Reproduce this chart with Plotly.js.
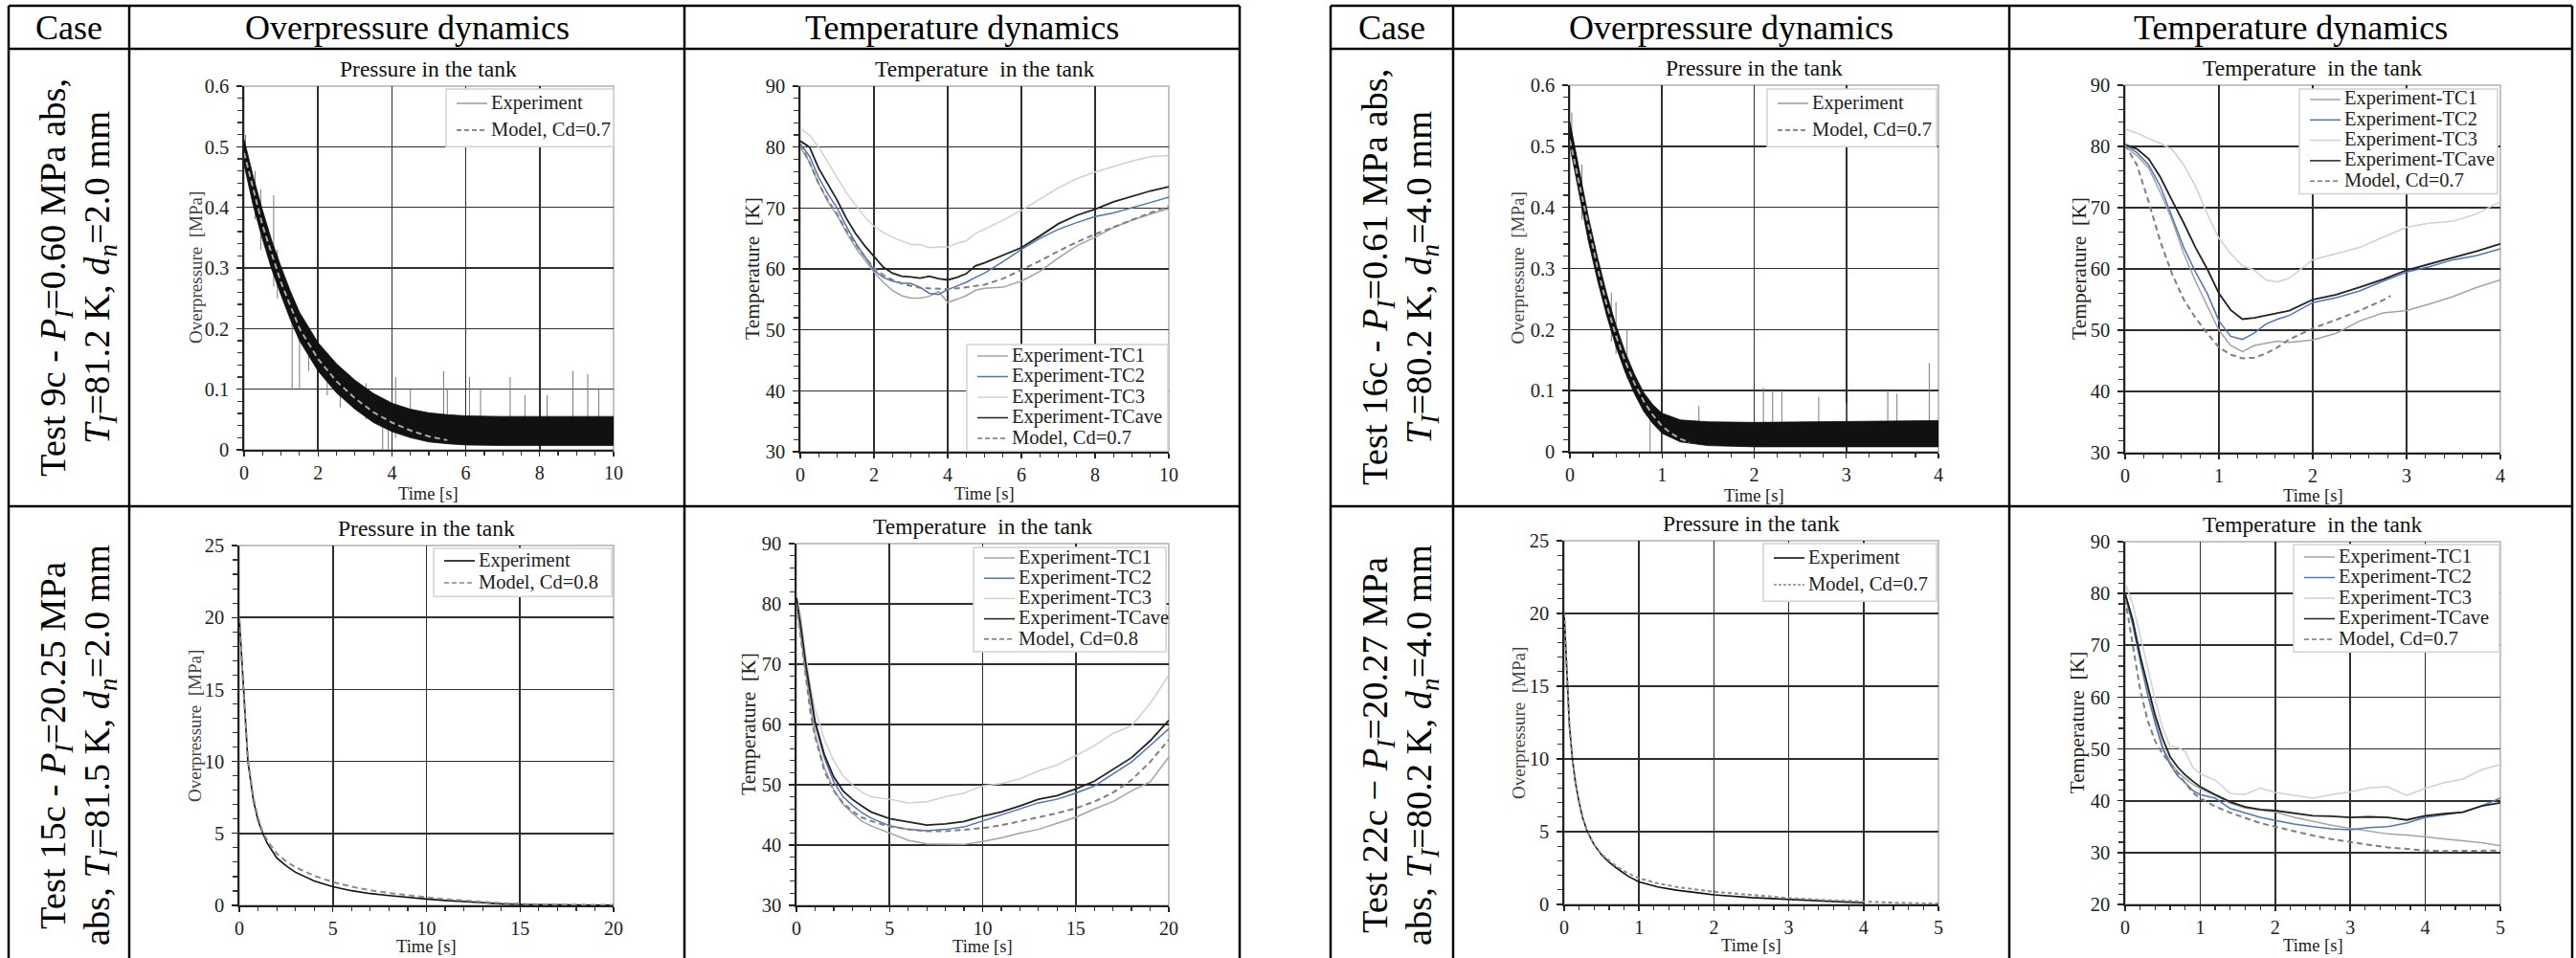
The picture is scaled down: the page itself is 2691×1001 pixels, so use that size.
<!DOCTYPE html>
<html><head><meta charset="utf-8">
<script src="https://cdn.plot.ly/plotly-3.0.1.min.js"></script>
<style>html,body{margin:0;padding:0;background:#fff;overflow:hidden}</style>
</head><body><div id="chart" style="width:2691px;height:1001px"></div>
<script>
// ================= DATA =================
// Test 9c – overpressure [MPa] (experiment noise band envelope, spikes, model)
const t9p   = [0, 0.25, 0.5, 0.75, 1, 1.25, 1.5, 2, 2.5, 3, 3.5, 4, 4.5, 5, 5.5, 6, 7, 8, 9, 10];
const p9hi  = [0.512, 0.45, 0.395, 0.345, 0.302, 0.262, 0.227, 0.177, 0.142, 0.115, 0.093, 0.077, 0.067, 0.061, 0.058, 0.056, 0.055, 0.055, 0.056, 0.055];
const p9lo  = [0.47, 0.402, 0.347, 0.297, 0.255, 0.215, 0.18, 0.13, 0.094, 0.067, 0.045, 0.03, 0.02, 0.013, 0.01, 0.008, 0.007, 0.007, 0.007, 0.007];
const s9t   = [0.04, 0.3, 0.45, 0.8, 0.9, 1.3, 1.5, 1.75, 2.25, 2.6, 3.3, 3.75, 3.9, 4.1, 4.5, 5.4, 5.5, 6.1, 6.4, 7.2, 7.6, 8.2, 8.9, 9.3, 9.6];
const s9lo  = [0.46, 0.38, 0.33, 0.27, 0.25, 0.1, 0.1, 0.13, 0.09, 0.07, 0.05, 0.0, 0.0, 0.02, 0.03, 0.03, 0.02, 0.03, 0.03, 0.03, 0.02, 0.03, 0.03, 0.03, 0.02];
const s9hi  = [0.52, 0.46, 0.43, 0.42, 0.33, 0.22, 0.2, 0.2, 0.15, 0.12, 0.11, 0.06, 0.05, 0.12, 0.1, 0.13, 0.1, 0.12, 0.1, 0.12, 0.09, 0.09, 0.13, 0.125, 0.1];
const t9m   = [0, 0.5, 1, 1.5, 2, 2.5, 3, 3.5, 4, 4.5, 5, 5.5];
const p9m   = [0.49, 0.37, 0.276, 0.2, 0.15, 0.113, 0.085, 0.062, 0.045, 0.032, 0.022, 0.016];

// Test 9c – temperature [K]
const t9T   = [0, 0.25, 0.5, 0.75, 1, 1.25, 1.5, 1.75, 2, 2.25, 2.5, 2.75, 3, 3.25, 3.5, 3.75, 4, 4.25, 4.5, 4.75, 5, 5.5, 6, 6.5, 7, 7.5, 8, 8.5, 9, 9.5, 10];
const T9tc1 = [80, 77.5, 74, 71, 68.8, 66, 63.5, 61.5, 59.5, 57.8, 56.5, 55.6, 55.2, 55.2, 55.5, 56.3, 54.5, 55, 55.6, 56.5, 56.8, 57, 58, 59.6, 61.8, 63.8, 65.2, 66.8, 68, 69, 69.9];
const T9tc2 = [80.5, 78.5, 75, 72.3, 70, 67, 64.3, 62, 59.8, 58.6, 58, 57.7, 57.6, 57, 56, 55.8, 56.6, 57.2, 57.8, 58.6, 59.3, 61.2, 63.2, 65, 66.5, 67.6, 68.6, 69.2, 70, 70.9, 71.8];
const T9tc3 = [83, 82, 80, 77.5, 75, 72.5, 70.5, 68.5, 67, 66, 65.2, 64.6, 64, 64, 63.5, 63.6, 63.6, 64.2, 64.6, 65.8, 66.5, 68, 69.6, 71.5, 73.3, 74.8, 75.9, 76.8, 77.7, 78.4, 78.6];
const T9ave = [81, 80, 76.5, 73.8, 71.3, 68.3, 65.8, 63.8, 62, 60.3, 59.3, 58.8, 58.7, 58.5, 58.8, 58.4, 58.2, 58.6, 59.2, 60.5, 61, 62.2, 63.5, 65.4, 67.4, 68.8, 69.8, 71, 71.9, 72.8, 73.5];
const T9mod = [80.5, 77.5, 74, 71.3, 69, 66.3, 64, 62, 60.2, 59, 58.2, 57.6, 57.2, 56.9, 56.8, 56.7, 56.7, 56.8, 57, 57.2, 57.4, 58.4, 59.8, 61.3, 62.9, 64.4, 65.7, 66.9, 68, 69.2, 70.3];

// Test 16c – overpressure [MPa]
const t16p  = [0, 0.1, 0.2, 0.3, 0.4, 0.5, 0.6, 0.7, 0.8, 0.9, 1.0, 1.2, 1.5, 2, 2.5, 3, 3.5, 4];
const p16hi = [0.54, 0.46, 0.385, 0.318, 0.258, 0.207, 0.163, 0.127, 0.097, 0.077, 0.063, 0.052, 0.049, 0.048, 0.049, 0.05, 0.05, 0.051];
const p16lo = [0.50, 0.42, 0.345, 0.28, 0.222, 0.172, 0.13, 0.095, 0.066, 0.046, 0.03, 0.016, 0.01, 0.008, 0.008, 0.008, 0.008, 0.008];
const s16t  = [0.02, 0.13, 0.45, 0.5, 0.62, 0.87, 1.0, 1.4, 2.1, 2.2, 2.3, 2.7, 3.0, 3.45, 3.55, 3.9];
const s16lo = [0.5, 0.38, 0.18, 0.16, 0.12, 0.0, 0.0, 0.03, 0.03, 0.03, 0.03, 0.03, 0.03, 0.03, 0.03, 0.03];
const s16hi = [0.555, 0.47, 0.26, 0.245, 0.2, 0.06, 0.04, 0.075, 0.105, 0.1, 0.1, 0.09, 0.08, 0.1, 0.095, 0.145];
const t16m  = [0, 0.1, 0.2, 0.3, 0.4, 0.5, 0.6, 0.7, 0.8, 0.9, 1.0, 1.1, 1.2, 1.3];
const p16m  = [0.51, 0.44, 0.365, 0.3, 0.24, 0.19, 0.148, 0.112, 0.083, 0.06, 0.042, 0.03, 0.021, 0.015];

// Test 16c – temperature [K]
const t16T   = [0, 0.125, 0.25, 0.375, 0.5, 0.625, 0.75, 0.875, 1, 1.125, 1.25, 1.375, 1.5, 1.625, 1.75, 2, 2.25, 2.5, 2.75, 3, 3.25, 3.5, 3.75, 4];
const T16tc1 = [80, 78.5, 76.5, 72.5, 68, 62.5, 58, 54, 50, 47.5, 46.5, 47.5, 47.9, 48.2, 48, 48.4, 49.5, 51.5, 52.8, 53.2, 54.3, 55.5, 57, 58.2];
const T16tc2 = [80.3, 79, 77, 73.5, 68.5, 63.5, 59.5, 56, 51.5, 49, 48.5, 49.5, 51, 51.8, 52.4, 54.5, 55.3, 56.4, 58, 59.5, 60.4, 61.5, 62.2, 63.3];
const T16tc3 = [82.8, 82.2, 81.3, 80.5, 79.5, 77, 73.5, 69, 65, 62.5, 60.5, 59.8, 58.2, 57.9, 58.5, 61.5, 62.5, 63.5, 65.2, 66.8, 67.5, 67.8, 69, 71];
const T16ave = [80.3, 79.6, 78, 75, 71.2, 67.5, 63.5, 60, 56, 53.3, 51.8, 52, 52.4, 52.8, 53.2, 55, 55.8, 57, 58.3, 59.8, 60.8, 61.8, 62.9, 64.1];
const t16Tm  = [0, 0.125, 0.25, 0.375, 0.5, 0.625, 0.75, 0.875, 1, 1.125, 1.25, 1.375, 1.5, 1.625, 1.75, 2, 2.25, 2.5, 2.75, 2.83];
const T16mod = [80.3, 77, 71, 64.5, 59.2, 55, 52, 49.5, 47.2, 46, 45.4, 45.5, 46.2, 47.2, 48.5, 50.3, 51.7, 53.2, 54.9, 55.6];

// Test 15c – overpressure [MPa]
const t15p  = [0, 0.1, 0.23, 0.46, 0.75, 1, 1.25, 1.5, 2, 2.5, 3, 4, 5, 6, 7, 8, 9, 10, 11, 12, 13, 14, 15, 16, 17, 18, 19, 20];
const p15e  = [20, 17.5, 15, 10, 7.3, 5.9, 5.0, 4.3, 3.3, 2.75, 2.3, 1.7, 1.3, 1.02, 0.82, 0.68, 0.55, 0.44, 0.34, 0.25, 0.18, 0.11, 0.07, 0.04, 0.03, 0.03, 0.02, 0.02];
const p15m  = [20, 17.3, 14.7, 10.2, 7.5, 6.1, 5.1, 4.5, 3.6, 3.05, 2.65, 2.05, 1.62, 1.3, 1.05, 0.86, 0.7, 0.56, 0.44, 0.33, 0.24, 0.16, 0.1, 0.06, 0.04, 0.03, 0.03, 0.03];

// Test 15c – temperature [K]
const t15T   = [0, 0.25, 0.5, 0.75, 1, 1.5, 2, 2.5, 3, 3.5, 4, 5, 6, 7, 8, 9, 10, 11, 12, 13, 14, 15, 16, 17, 18, 19, 20];
const T15tc1 = [80, 74.5, 68.5, 63, 58.5, 52.8, 49.2, 46.8, 45.3, 44, 43.2, 42, 40.8, 40.2, 40.1, 40.1, 40.6, 41.2, 42, 42.6, 43.6, 44.6, 46, 47.2, 49, 50.5, 54.6];
const T15tc2 = [80.5, 75.5, 69.5, 64.5, 60, 54.5, 50.5, 48, 46.6, 45.4, 44.5, 43.2, 42.6, 42.4, 42.6, 43, 44, 45, 46, 47, 47.6, 48.6, 49.8, 51.8, 53.8, 56.5, 59.3];
const T15tc3 = [82, 77.5, 71.5, 66.5, 62.5, 57.5, 54, 51.5, 50, 48.8, 48, 47.6, 47, 47.2, 48, 48.6, 49.8, 50.2, 51, 52.3, 53.3, 54.8, 56.5, 58.5, 59.8, 63.5, 68.2];
const T15ave = [81, 76, 70, 65, 60.5, 55, 51.3, 49, 47.6, 46.5, 45.5, 44.4, 43.8, 43.3, 43.5, 43.9, 44.8, 45.5, 46.5, 47.6, 48.2, 49.3, 50.6, 52.5, 54.5, 57.3, 60.7];
const T15mod = [80, 74, 67.5, 62, 58, 52.3, 49, 47, 45.6, 44.6, 44, 43.1, 42.6, 42.3, 42.3, 42.5, 42.8, 43.3, 43.9, 44.6, 45.3, 46.1, 47.2, 48.7, 50.8, 53.8, 57.5];

// Test 22c – overpressure [MPa]
const t22p  = [0, 0.02, 0.04, 0.07, 0.11, 0.15, 0.2, 0.25, 0.31, 0.4, 0.5, 0.6, 0.7, 0.85, 1.0, 1.25, 1.5, 2, 2.5, 3, 3.5, 4];
const p22e  = [20, 17.5, 15, 12.3, 10, 8.4, 7, 5.9, 5, 4.1, 3.4, 2.9, 2.5, 1.95, 1.55, 1.2, 0.98, 0.66, 0.47, 0.33, 0.22, 0.12];
const t22m  = [0, 0.02, 0.04, 0.07, 0.11, 0.15, 0.2, 0.25, 0.31, 0.4, 0.5, 0.6, 0.7, 0.85, 1.0, 1.25, 1.5, 2, 2.5, 3, 3.5, 4, 4.5, 5];
const p22m  = [20, 17.5, 15, 12.3, 10, 8.4, 7, 5.9, 5, 4.1, 3.45, 3.0, 2.6, 2.15, 1.8, 1.45, 1.2, 0.87, 0.63, 0.44, 0.3, 0.18, 0.1, 0.06];

// Test 22c – temperature [K]
const t22T   = [0, 0.1, 0.2, 0.3, 0.4, 0.5, 0.6, 0.7, 0.8, 0.9, 1, 1.2, 1.4, 1.6, 1.8, 2, 2.25, 2.5, 2.75, 3, 3.25, 3.5, 3.75, 4, 4.25, 4.5, 4.75, 5];
const T22tc1 = [80, 74.5, 68, 61.5, 55.5, 50.5, 47.5, 45.6, 44.3, 43.2, 42.4, 41, 39.5, 38.6, 38.2, 37.8, 36.8, 36, 35.3, 34.7, 34.2, 33.6, 33.4, 33, 32.7, 32.3, 31.9, 31.3];
const T22tc2 = [79.5, 74, 67, 60.5, 55, 50, 47, 44.8, 43.5, 42, 41.2, 40.5, 38.5, 37.6, 36.8, 36.2, 35.5, 35, 34.6, 34.4, 34.8, 35, 35.7, 36.8, 37.3, 37.8, 39, 40.5];
const T22tc3 = [82, 78, 72, 65.5, 59.5, 54, 50.5, 50.3, 49.5, 46.5, 45.2, 44, 41.4, 41.2, 42.5, 41.6, 41, 40.5, 41.2, 41.7, 42.5, 42.7, 41, 42.4, 43.5, 44.2, 46, 47];
const T22ave = [80, 75, 68, 62, 56.5, 52, 48.5, 46.5, 45, 43.8, 42.7, 41.2, 39.8, 38.8, 38.3, 38.1, 37.6, 37.1, 37, 36.8, 36.9, 36.8, 36.3, 37.1, 37.5, 37.8, 39, 39.6];
const T22mod = [79, 70, 61.5, 55.5, 51.5, 49, 47.1, 45.2, 43.5, 41.6, 40.5, 38.9, 37.7, 36.7, 35.7, 35, 34.1, 33.3, 32.6, 32, 31.5, 31, 30.7, 30.4, 30.3, 30.3, 30.3, 30.4];

// Texts
const headers   = ['Case', 'Overpressure dynamics', 'Temperature dynamics'];
const caseLines = [
  ['Test 9c - <i>P</i><sub><i>I</i></sub>=0.60 MPa abs,', '<i>T</i><sub><i>I</i></sub>=81.2 K, <i>d</i><sub><i>n</i></sub>=2.0 mm'],
  ['Test 15c - <i>P</i><sub><i>I</i></sub>=20.25 MPa', 'abs, <i>T</i><sub><i>I</i></sub>=81.5 K, <i>d</i><sub><i>n</i></sub>=2.0 mm'],
  ['Test 16c - <i>P</i><sub><i>I</i></sub>=0.61 MPa abs,', '<i>T</i><sub><i>I</i></sub>=80.2 K, <i>d</i><sub><i>n</i></sub>=4.0 mm'],
  ['Test 22c \u2212 <i>P</i><sub><i>I</i></sub>=20.27 MPa', 'abs, <i>T</i><sub><i>I</i></sub>=80.2 K, <i>d</i><sub><i>n</i></sub>=4.0 mm']
];
const tcNames = ['Experiment-TC1', 'Experiment-TC2', 'Experiment-TC3', 'Experiment-TCave'];

// ================= LAYOUT / STYLE =================
const W = 2691, H = 1001;
const FONT = 'Liberation Serif, Times New Roman, serif';
const px = x => x / W, py = y => 1 - y / H;

// panel geometry in page pixels [x0, y0, x1, y1]; legend box [x0, y0, x1, firstRowY, pitch]
const panels = [
  {box:[255, 90, 641, 470],  xr:[0,10], xd:2, xm:0.5,  yr:[0,0.6], yd:0.1, ym:0.02, kind:'p', leg:[466, 93, 641, 108, 28]},
  {box:[836, 90, 1221, 472], xr:[0,10], xd:2, xm:0.5,  yr:[30,90], yd:10,  ym:2,    kind:'T', leg:[1010, 360, 1220, 372, 21.5]},
  {box:[1640, 89, 2025, 472],xr:[0,4],  xd:1, xm:0.25, yr:[0,0.6], yd:0.1, ym:0.02, kind:'p', leg:[1846, 93, 2023, 108, 28]},
  {box:[2220, 89, 2612, 473],xr:[0,4],  xd:1, xm:0.2,  yr:[30,90], yd:10,  ym:2,    kind:'T', leg:[2402, 93, 2609, 104, 21.3]},
  {box:[250, 570, 641, 946], xr:[0,20], xd:5, xm:1,    yr:[0,25],  yd:5,   ym:1,    kind:'p', leg:[453, 573, 639, 586, 23]},
  {box:[832, 568, 1221, 946],xr:[0,20], xd:5, xm:1,    yr:[30,90], yd:10,  ym:2,    kind:'T', leg:[1017, 572, 1218, 583, 21.2]},
  {box:[1634, 565, 2025, 945],xr:[0,5], xd:1, xm:0.2,  yr:[0,25],  yd:5,   ym:1,    kind:'p', leg:[1842, 568, 2023, 583, 28]},
  {box:[2220, 566, 2612, 945],xr:[0,5], xd:1, xm:0.2,  yr:[20,90], yd:10,  ym:2,    kind:'T', leg:[2396, 569, 2611, 582, 21.5]}
];
const yTitleX = [204, 786, 1585, 2172, 203, 782, 1586, 2169];
const xTitleY = [516, 516, 518, 518, 989, 989, 988, 988];

const ax = i => ({xaxis: i === 1 ? 'x' : 'x' + i, yaxis: i === 1 ? 'y' : 'y' + i});

const traces = [];
const legendEntries = {};   // panel -> [{name, color, width, dash}]
const C = {tc1:'#a3a3a3', tc2:'#4f74b8', tc3:'#d0d0d0', ave:'#222222', mod:'#7f7f7f'};
function addLeg(i, name, color, width, dash) {
  (legendEntries[i] = legendEntries[i] || []).push({name, color, width, dash});
}

function noisyPressure(i, t, lo, hi, st, slo, shi, mt, mp, modelName) {
  const sx = [], sy = [];
  st.forEach((v, k) => { sx.push(v, v, null); sy.push(slo[k], shi[k], null); });
  traces.push(Object.assign({type:'scatter', mode:'lines', x:sx, y:sy, name:'Experiment',
    line:{color:'#7a7a7a', width:1}, hoverinfo:'skip'}, ax(i)));
  traces.push(Object.assign({type:'scatter', mode:'lines', x:t, y:lo, name:'Experiment',
    line:{color:'#111', width:0.8}, hoverinfo:'skip'}, ax(i)));
  traces.push(Object.assign({type:'scatter', mode:'lines', x:t, y:hi, name:'Experiment', fill:'tonexty',
    fillcolor:'#111', line:{color:'#111', width:0.8}, hoverinfo:'skip'}, ax(i)));
  traces.push(Object.assign({type:'scatter', mode:'lines', x:mt, y:mp, name:modelName,
    line:{color:'#a8a8a8', width:2, dash:'6px,4px'}}, ax(i)));
  addLeg(i, 'Experiment', '#8a8a8a', 1.3, 'solid');
  addLeg(i, modelName, '#666', 1.6, '5px,3px');
}
function smoothPressure(i, t, pe, mt, pm, modelName, dash) {
  traces.push(Object.assign({type:'scatter', mode:'lines', x:t, y:pe, name:'Experiment',
    line:{color:'#111', width:1.6}}, ax(i)));
  traces.push(Object.assign({type:'scatter', mode:'lines', x:mt, y:pm, name:modelName,
    line:{color:'#8c8c8c', width:2, dash:dash}}, ax(i)));
  addLeg(i, 'Experiment', '#111', 1.6, 'solid');
  addLeg(i, modelName, '#888', 1.6, dash === '4px,3px' ? '3px,2px' : '5px,3px');
}
function temps(i, t, a, b, c, d, mt, m, modelName) {
  const ys = [a, b, c, d], cols = [C.tc1, C.tc2, C.tc3, C.ave], wid = [1.5, 1.5, 1.5, 1.8];
  ys.forEach((y, k) => {
    traces.push(Object.assign({type:'scatter', mode:'lines', x:t, y:y, name:tcNames[k],
      line:{color:cols[k], width:wid[k]}}, ax(i)));
    addLeg(i, tcNames[k], cols[k], 1.5, 'solid');
  });
  traces.push(Object.assign({type:'scatter', mode:'lines', x:mt, y:m, name:modelName,
    line:{color:C.mod, width:2, dash:'6px,4px'}}, ax(i)));
  addLeg(i, modelName, '#777', 1.6, '5px,3px');
}

noisyPressure(1, t9p, p9lo, p9hi, s9t, s9lo, s9hi, t9m, p9m, 'Model, Cd=0.7');
temps(2, t9T, T9tc1, T9tc2, T9tc3, T9ave, t9T, T9mod, 'Model, Cd=0.7');
noisyPressure(3, t16p, p16lo, p16hi, s16t, s16lo, s16hi, t16m, p16m, 'Model, Cd=0.7');
temps(4, t16T, T16tc1, T16tc2, T16tc3, T16ave, t16Tm, T16mod, 'Model, Cd=0.7');
smoothPressure(5, t15p, p15e, t15p, p15m, 'Model, Cd=0.8', '6px,4px');
temps(6, t15T, T15tc1, T15tc2, T15tc3, T15ave, t15T, T15mod, 'Model, Cd=0.8');
smoothPressure(7, t22p, p22e, t22m, p22m, 'Model, Cd=0.7', '4px,3px');
temps(8, t22T, T22tc1, T22tc2, T22tc3, T22ave, t22T, T22mod, 'Model, Cd=0.7');

const layout = {
  width: W, height: H, margin:{l:0, r:0, t:0, b:0},
  paper_bgcolor:'#fff', plot_bgcolor:'#fff', showlegend:false,
  font:{family:FONT, color:'#111'},
  shapes:[], annotations:[]
};

const tickCommon = {
  showline:true, linecolor:'#222', linewidth:1.6, mirror:false,
  showgrid:true, gridcolor:'#2e2e2e', gridwidth:1.6, zeroline:false,
  ticks:'outside', ticklen:6, tickwidth:1.4, tickcolor:'#222', ticklabelstandoff:0,
  tickfont:{family:FONT, size:20.5, color:'#222'}, fixedrange:true, tick0:0
};

panels.forEach((p, k) => {
  const i = k + 1, id = ax(i);
  const xk = i === 1 ? 'xaxis' : 'xaxis' + i, yk = i === 1 ? 'yaxis' : 'yaxis' + i;
  layout[xk] = Object.assign({}, tickCommon, {domain:[px(p.box[0]), px(p.box[2])], range:p.xr, dtick:p.xd,
    anchor:id.yaxis, ticklen:5, tickfont:{family:FONT, size:20, color:'#222'},
    minor:{dtick:p.xm, ticks:'outside', ticklen:4, tickcolor:'#333', tickwidth:1.2, showgrid:false}});
  layout[yk] = Object.assign({}, tickCommon, {domain:[py(p.box[3]), py(p.box[1])], range:p.yr, dtick:p.yd,
    anchor:id.xaxis, ticklabelstandoff:4,
    minor:{dtick:p.ym, ticks:'outside', ticklen:5, tickcolor:'#333', tickwidth:1.2, showgrid:false}});
  // light frame
  layout.shapes.push({type:'rect', xref:'paper', yref:'paper', x0:px(p.box[0]), x1:px(p.box[2]),
    y0:py(p.box[3]), y1:py(p.box[1]), line:{color:'#b0b0b0', width:1.5}, layer:'below'});
  // legend box + entries (drawn above the data, like the original chart legend)
  const [lx0, ly0, lx1, fy, pitch] = p.leg;
  const ents = legendEntries[i];
  const ly1 = fy + pitch * (ents.length - 1) + pitch * 0.62;
  layout.shapes.push({type:'rect', xref:'paper', yref:'paper', x0:px(lx0), x1:px(lx1), y0:py(ly1), y1:py(ly0),
    fillcolor:'#fff', line:{color:'#d2d2d2', width:1.5}, layer:'above'});
  ents.forEach((e, r) => {
    const yy = fy + r * pitch;
    layout.shapes.push({type:'line', xref:'paper', yref:'paper', x0:px(lx0 + 11), x1:px(lx0 + 43), y0:py(yy), y1:py(yy),
      line:{color:e.color, width:e.width, dash:e.dash}, layer:'above'});
    layout.annotations.push({xref:'paper', yref:'paper', x:px(lx0 + 46), y:py(yy - 1), text:e.name, showarrow:false,
      xanchor:'left', yanchor:'middle', borderpad:0, font:{family:FONT, size:20.5, color:'#222'}});
  });
  // plot title
  const cx = (p.box[0] + p.box[2]) / 2;
  layout.annotations.push({xref:'paper', yref:'paper', x:px(cx), y:py(p.box[1] - 18), showarrow:false,
    text: p.kind === 'p' ? 'Pressure in the tank' : 'Temperature\u00a0 in the tank',
    font:{family:FONT, size:23.5, color:'#111'}, xanchor:'center', yanchor:'middle'});
  // y title
  layout.annotations.push({xref:'paper', yref:'paper', x:px(yTitleX[k]), y:py((p.box[1] + p.box[3]) / 2),
    showarrow:false, textangle:-90, text: p.kind === 'p' ? 'Overpressure\u00a0 [MPa]' : 'Temperature\u00a0 [K]',
    font:{family:FONT, size: p.kind === 'p' ? 19 : 21.5, color: p.kind === 'p' ? '#444' : '#222'},
    xanchor:'center', yanchor:'middle'});
  // x title
  layout.annotations.push({xref:'paper', yref:'paper', x:px(cx), y:py(xTitleY[k]), showarrow:false,
    text:'Time [s]', borderpad:0, font:{family:FONT, size:18.5, color:'#222'}, xanchor:'center', yanchor:'middle'});
});

// table frames
const tables = [
  {x:[9, 135, 715, 1295]},
  {x:[1390, 1518, 2099, 2687]}
];
const L = (x0, y0, x1, y1) => ({type:'line', xref:'paper', yref:'paper', x0:px(x0), y0:py(y0), x1:px(x1), y1:py(y1),
  line:{color:'#000', width:2.5}, layer:'above'});
tables.forEach((tb, ti) => {
  tb.x.forEach(x => layout.shapes.push(L(x, 6, x, H)));
  [6, 51, 529].forEach(y => layout.shapes.push(L(tb.x[0], y, tb.x[3], y)));
  headers.forEach((h, k) => layout.annotations.push({xref:'paper', yref:'paper',
    x:px((tb.x[k] + tb.x[k + 1]) / 2), y:py(29), text:h, showarrow:false,
    font:{family:FONT, size:36, color:'#000'}, xanchor:'center', yanchor:'middle'}));
  [290, 779].forEach((yc, r) => {
    caseLines[ti * 2 + r].forEach((ln, li) => layout.annotations.push({xref:'paper', yref:'paper',
      x:px(tb.x[0] + 49 + li * 46), y:py(yc), text:ln, showarrow:false, textangle:-90,
      font:{family:FONT, size:38.5, color:'#000'}, xanchor:'center', yanchor:'middle'}));
  });
});

Plotly.newPlot('chart', traces, layout, {staticPlot:true, displayModeBar:false});
</script></body></html>
